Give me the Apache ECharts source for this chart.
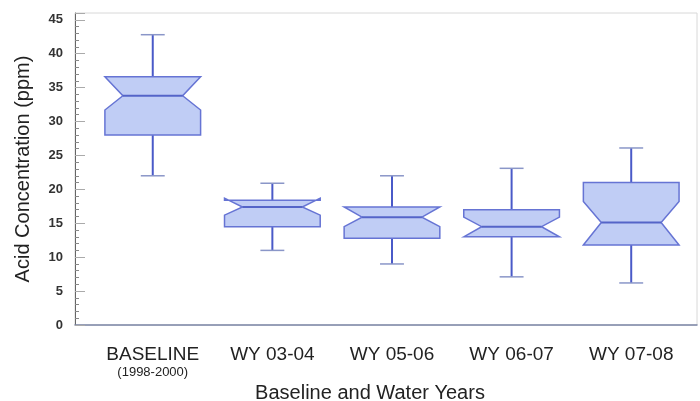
<!DOCTYPE html>
<html>
<head>
<meta charset="utf-8">
<script src="https://cdn.jsdelivr.net/npm/echarts@6/dist/echarts.min.js"></script>
<style>
html,body{margin:0;padding:0;background:#fff;}
#chart{width:700px;height:401px;}
</style>
</head>
<body>
<div id="chart"></div>
<script>
const categories = ['BASELINE', 'WY 03-04', 'WY 05-06', 'WY 06-07', 'WY 07-08'];
const categorySub = ['(1998-2000)', '', '', '', ''];
const whiskerLow = [22, 11, 9, 7.1, 6.2];
const q1 = [28, 14.5, 12.8, 13.0, 11.8];
const notchLow = [31.7, 16.2, 14.5, 13.0, 11.8];
const median = [33.8, 17.4, 15.9, 14.5, 15.1];
const notchHigh = [36.6, 18.7, 17.4, 15.9, 18.2];
const q3 = [36.6, 18.4, 17.4, 17.0, 21.0];
const whiskerHigh = [42.8, 20.9, 22, 23.1, 26.1];
const yTicks = [0, 5, 10, 15, 20, 25, 30, 35, 40, 45];

const data = categories.map((c, i) => [i + 1, whiskerLow[i], q1[i], notchLow[i], median[i], notchHigh[i], q3[i], whiskerHigh[i]]);

const HALF = 0.4, INDENT = 0.15, CAP = 0.1;
const FONT = '"Liberation Sans", Arial, sans-serif';

function renderItem(params, api) {
  const x = api.value(0);
  const lo = api.value(1), b1 = api.value(2), nl = api.value(3), md = api.value(4), nh = api.value(5), b3 = api.value(6), hi = api.value(7);
  const c = (xx, yy) => api.coord([xx, yy]);
  const L = x - HALF, R = x + HALF;
  const poly = [
    c(L, b1), c(L, nl), c(L + INDENT, md), c(L, nh), c(L, b3),
    c(R, b3), c(R, nh), c(R - INDENT, md), c(R, nl), c(R, b1)
  ];
  const stem = '#4a5ac8';
  return {
    type: 'group',
    children: [
      { type: 'line', shape: { x1: c(x, b3)[0], y1: c(x, b3)[1], x2: c(x, hi)[0], y2: c(x, hi)[1] }, style: { stroke: stem, lineWidth: 2 } },
      { type: 'line', shape: { x1: c(x, b1)[0], y1: c(x, b1)[1], x2: c(x, lo)[0], y2: c(x, lo)[1] }, style: { stroke: stem, lineWidth: 2 } },
      { type: 'line', shape: { x1: c(x - CAP, hi)[0], y1: c(x - CAP, hi)[1], x2: c(x + CAP, hi)[0], y2: c(x + CAP, hi)[1] }, style: { stroke: '#8a96c8', lineWidth: 1.5 } },
      { type: 'line', shape: { x1: c(x - CAP, lo)[0], y1: c(x - CAP, lo)[1], x2: c(x + CAP, lo)[0], y2: c(x + CAP, lo)[1] }, style: { stroke: '#8a96c8', lineWidth: 1.5 } },
      { type: 'polygon', shape: { points: poly }, style: { fill: '#c0cdf5', stroke: '#6674d4', lineWidth: 1.5, lineJoin: 'miter' } },
      { type: 'line', shape: { x1: c(L + INDENT, md)[0], y1: c(L + INDENT, md)[1], x2: c(R - INDENT, md)[0], y2: c(R - INDENT, md)[1] }, style: { stroke: '#5464c8', lineWidth: 2 } }
    ]
  };
}

const chart = echarts.init(document.getElementById('chart'));
chart.setOption({
  animation: false,
  backgroundColor: '#fff',
  grid: { left: 75, right: 3, top: 13, bottom: 76, outerBoundsMode: 'none', containLabel: false, show: true, borderColor: '#d8d8d8', borderWidth: 1 },
  xAxis: {
    type: 'value', min: 0.35, max: 5.55,
    name: 'Baseline and Water Years', nameLocation: 'middle', nameGap: 52,
    nameTextStyle: { fontFamily: FONT, fontSize: 20, color: '#222', padding: [0, 32, 0, 0] },
    axisLine: { show: true, lineStyle: { color: '#7c86a6', width: 1.5 } },
    axisTick: { show: false },
    splitLine: { show: false },
    axisLabel: {
      customValues: [1, 2, 3, 4, 5],
      margin: 19,
      formatter: function (v) {
        const i = Math.round(v) - 1;
        return categorySub[i] ? '{a|' + categories[i] + '}\n{b|' + categorySub[i] + '}' : '{a|' + categories[i] + '}';
      },
      rich: {
        a: { fontFamily: FONT, fontSize: 19, color: '#222', lineHeight: 21 },
        b: { fontFamily: FONT, fontSize: 13, color: '#222', lineHeight: 15 }
      }
    }
  },
  yAxis: {
    type: 'value', min: 0, max: 46, interval: 5,
    name: 'Acid Concentration (ppm)', nameLocation: 'middle', nameGap: 42,
    nameTextStyle: { fontFamily: FONT, fontSize: 20, color: '#222' },
    axisLine: { show: true, lineStyle: { color: '#666', width: 1 } },
    axisTick: { show: true, inside: true, length: 10, lineStyle: { color: '#aaa' } },
    minorTick: { show: true, splitNumber: 5, length: 4, lineStyle: { color: '#888' } },
    splitLine: { show: false },
    axisLabel: {
      margin: 12, fontFamily: FONT, fontSize: 13, fontWeight: 'bold', color: '#333',
      formatter: function (v) { return yTicks.indexOf(v) >= 0 ? String(v) : ''; }
    }
  },
  series: [{
    type: 'custom',
    renderItem: renderItem,
    data: data,
    encode: { x: 0, y: [1, 2, 3, 4, 5, 6, 7] }
  }]
});
</script>
</body>
</html>
